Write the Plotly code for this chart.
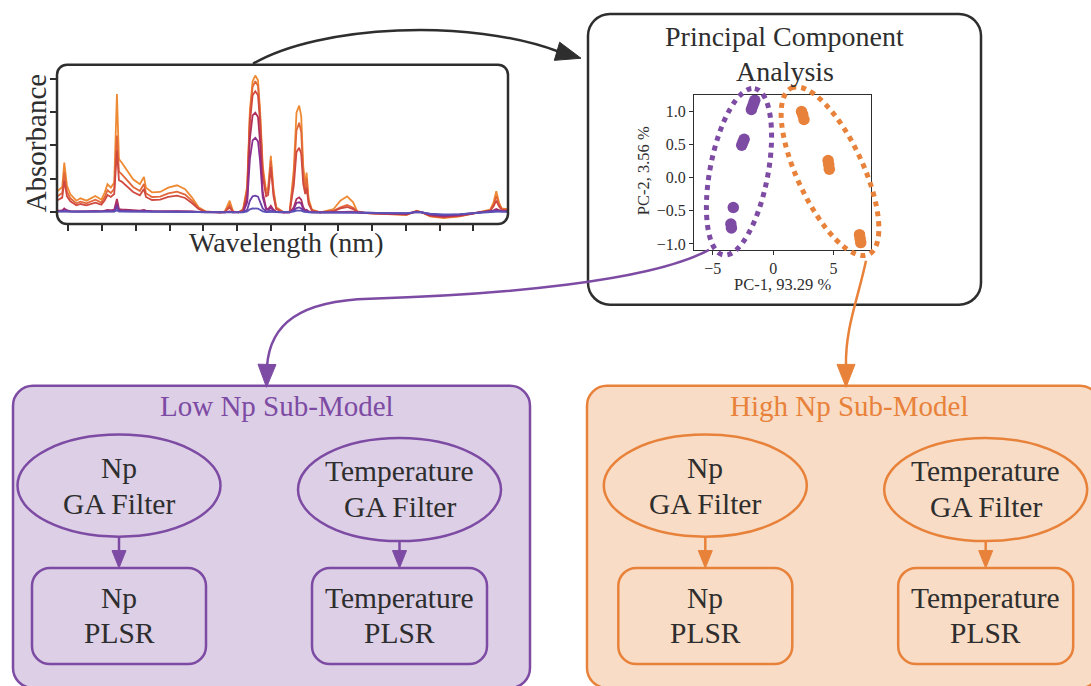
import numpy as np
import plotly.graph_objects as go

W, H = 1091, 686

# ---------------- data ----------------
wavelength_nm = [384, 391, 394, 398, 403, 412, 418, 427, 440, 449,
                 454, 458, 463, 468, 472, 475, 479, 486, 496, 506,
                 512, 515, 524, 536, 548, 561, 573, 583, 593, 603,
                 625, 632, 639, 644, 652, 659, 665, 669, 673, 677,
                 681, 684, 688, 693, 696, 700, 704, 708, 719, 728,
                 734, 738, 742, 745, 748, 751, 753, 756, 761, 773,
                 793, 803, 813, 822, 828, 842, 872, 901, 916, 924,
                 936, 956, 980, 1005, 1025, 1030, 1034, 1038, 1042, 1050]

abs_high1 = [0.64, 0.76, 1.49, 0.79, 0.54, 0.35, 0.42, 0.35, 0.49, 0.38,
             0.60, 0.84, 0.74, 0.89, 3.54, 1.59, 1.49, 1.29, 0.99, 0.84,
             1.06, 0.74, 0.60, 0.61, 0.74, 0.81, 0.69, 0.45, 0.15, 0.03,
             0.00, 0.03, 0.35, 0.03, 0.00, 0.10, 0.79, 3.07, 3.92, 4.09,
             3.95, 3.07, 1.39, 0.64, 0.74, 1.69, 0.69, 0.15, 0.00, 0.03,
             1.29, 2.98, 3.19, 2.88, 1.39, 0.84, 1.19, 0.40, 0.08, 0.00,
             0.10, 0.35, 0.48, 0.30, 0.03, -0.02, -0.06, -0.08, 0.05, 0.00,
             -0.12, -0.17, -0.12, -0.02, 0.08, 0.30, 0.63, 0.30, 0.12, 0.10]
abs_high2 = [0.48, 0.58, 1.20, 0.62, 0.42, 0.27, 0.32, 0.27, 0.38, 0.29,
             0.46, 0.66, 0.58, 0.70, 2.30, 1.22, 1.14, 0.99, 0.76, 0.64,
             0.85, 0.57, 0.46, 0.47, 0.57, 0.62, 0.53, 0.35, 0.12, 0.02,
             0.00, 0.02, 0.22, 0.02, 0.00, 0.08, 0.70, 2.90, 3.75, 3.92,
             3.78, 2.90, 1.25, 0.55, 0.62, 1.55, 0.58, 0.12, 0.00, 0.02,
             1.05, 2.45, 2.68, 2.40, 1.10, 0.66, 1.02, 0.32, 0.06, 0.00,
             0.05, 0.15, 0.22, 0.14, 0.02, -0.02, -0.05, -0.07, 0.04, 0.00,
             -0.11, -0.15, -0.11, -0.02, 0.06, 0.24, 0.49, 0.24, 0.10, 0.08]
abs_high3 = [0.36, 0.44, 0.95, 0.48, 0.33, 0.21, 0.25, 0.21, 0.29, 0.23,
             0.36, 0.52, 0.46, 0.55, 1.85, 0.96, 0.92, 0.80, 0.61, 0.51,
             0.70, 0.46, 0.37, 0.38, 0.46, 0.50, 0.43, 0.28, 0.10, 0.02,
             0.00, 0.02, 0.15, 0.02, 0.00, 0.06, 0.60, 2.70, 3.50, 3.62,
             3.50, 2.70, 1.10, 0.48, 0.52, 1.35, 0.48, 0.10, 0.00, 0.02,
             0.80, 1.80, 1.93, 1.75, 0.85, 0.55, 0.74, 0.25, 0.05, 0.00,
             0.04, 0.12, 0.16, 0.10, 0.02, -0.02, -0.05, -0.06, 0.03, 0.00,
             -0.10, -0.14, -0.10, -0.02, 0.05, 0.18, 0.35, 0.18, 0.08, 0.06]
abs_low1 = [0.05, 0.06, 0.12, 0.06, 0.04, 0.03, 0.03, 0.03, 0.04, 0.03,
            0.05, 0.07, 0.06, 0.08, 0.40, 0.10, 0.09, 0.08, 0.06, 0.05,
            0.07, 0.05, 0.04, 0.04, 0.05, 0.05, 0.04, 0.03, 0.01, 0.00,
            0.00, 0.00, 0.03, 0.00, 0.00, 0.02, 0.40, 2.20, 2.90, 2.98,
            2.85, 2.10, 0.60, 0.12, 0.10, 0.20, 0.08, 0.02, 0.00, 0.00,
            0.15, 0.40, 0.45, 0.38, 0.15, 0.06, 0.08, 0.03, 0.01, 0.00,
            0.01, 0.02, 0.03, 0.02, 0.00, -0.02, -0.04, -0.05, 0.02, 0.00,
            -0.08, -0.12, -0.09, -0.02, 0.03, 0.06, 0.10, 0.06, 0.04, 0.04]
abs_low2 = [0.04, 0.05, 0.08, 0.05, 0.03, 0.02, 0.02, 0.02, 0.03, 0.02,
            0.04, 0.05, 0.04, 0.05, 0.25, 0.07, 0.06, 0.05, 0.04, 0.04,
            0.05, 0.04, 0.03, 0.03, 0.04, 0.04, 0.03, 0.02, 0.01, 0.00,
            0.00, 0.00, 0.02, 0.00, 0.00, 0.01, 0.30, 1.60, 2.15, 2.23,
            2.12, 1.55, 0.45, 0.09, 0.08, 0.14, 0.06, 0.01, 0.00, 0.00,
            0.10, 0.28, 0.30, 0.26, 0.10, 0.04, 0.06, 0.02, 0.00, 0.00,
            0.01, 0.01, 0.02, 0.01, 0.00, -0.02, -0.03, -0.04, 0.02, 0.00,
            -0.06, -0.10, -0.07, -0.01, 0.02, 0.04, 0.07, 0.04, 0.03, 0.03]
abs_low3 = [0.03, 0.03, 0.05, 0.03, 0.02, 0.02, 0.02, 0.02, 0.02, 0.02,
            0.03, 0.03, 0.03, 0.03, 0.15, 0.04, 0.04, 0.03, 0.03, 0.03,
            0.03, 0.03, 0.02, 0.02, 0.03, 0.03, 0.02, 0.02, 0.01, 0.00,
            0.00, 0.00, 0.01, 0.00, 0.00, 0.01, 0.08, 0.35, 0.48, 0.50,
            0.47, 0.34, 0.12, 0.03, 0.03, 0.06, 0.03, 0.01, 0.00, 0.00,
            0.05, 0.13, 0.15, 0.12, 0.05, 0.02, 0.03, 0.01, 0.00, 0.00,
            0.00, 0.01, 0.01, 0.01, 0.00, -0.01, -0.02, -0.03, 0.01, 0.00,
            -0.05, -0.08, -0.06, -0.01, 0.02, 0.03, 0.05, 0.03, 0.02, 0.02]
abs_low4 = [0.02, 0.02, 0.03, 0.02, 0.02, 0.01, 0.01, 0.01, 0.01, 0.01,
            0.01, 0.02, 0.02, 0.02, 0.06, 0.02, 0.02, 0.02, 0.02, 0.02,
            0.02, 0.02, 0.01, 0.01, 0.02, 0.02, 0.01, 0.01, 0.00, 0.00,
            0.00, 0.00, 0.01, 0.00, 0.00, 0.00, 0.03, 0.09, 0.12, 0.12,
            0.11, 0.08, 0.03, 0.01, 0.01, 0.02, 0.01, 0.00, 0.00, 0.00,
            0.02, 0.05, 0.06, 0.05, 0.02, 0.01, 0.01, 0.00, 0.00, 0.00,
            0.00, 0.00, 0.01, 0.00, 0.00, -0.01, -0.02, -0.02, 0.01, 0.00,
            -0.04, -0.06, -0.05, -0.01, 0.01, 0.02, 0.03, 0.02, 0.02, 0.02]

spectra = [abs_high1, abs_high2, abs_high3, abs_low1, abs_low2, abs_low3, abs_low4]
spectra_colors = ["#ee8a34", "#e2683a", "#d04a40", "#b0305c", "#8c2f8e", "#6a3fa6", "#5a52b6"]

wl_ticks = [400, 450, 500, 550, 600, 650, 700, 750, 800, 850, 900, 950, 1000]
abs_ticks = [0, 1, 2, 3, 4]

pc1_low = [-1.80, -1.70, -1.60, -1.52, -2.60, -2.50, -2.40, -3.30, -3.50, -3.45]
pc2_low = [1.03, 1.08, 1.13, 1.17, 0.49, 0.54, 0.58, -0.45, -0.70, -0.76]
pc1_high = [2.35, 2.45, 2.55, 4.55, 4.60, 4.65, 7.15, 7.20, 7.25]
pc2_high = [1.00, 0.95, 0.88, 0.26, 0.20, 0.13, -0.86, -0.92, -0.98]
pca_xticks = [-5, 0, 5]
pca_yticks = [-1.0, -0.5, 0.0, 0.5, 1.0]
pc1_label = "PC-1, 93.29 %"
pc2_label = "PC-2, 3.56 %"

# ---------------- styling ----------------
PURPLE = "#7d4ba3"
ORANGE = "#e8823a"
PURPLE_FILL = "#dccfe6"
ORANGE_FILL = "#f8dcc5"
DARK = "#2e2e2e"
FONT = "Liberation Serif"


def fx(x):
    return x / W


def fy(y):
    return 1 - y / H


def pt(x, y):
    return f"{fx(x):.5f},{fy(y):.5f}"


def rrect_path(x0, y0, x1, y1, r):
    k = 0.5523 * r
    return (f"M{pt(x0 + r, y0)} L{pt(x1 - r, y0)} "
            f"C{pt(x1 - r + k, y0)} {pt(x1, y0 + r - k)} {pt(x1, y0 + r)} "
            f"L{pt(x1, y1 - r)} "
            f"C{pt(x1, y1 - r + k)} {pt(x1 - r + k, y1)} {pt(x1 - r, y1)} "
            f"L{pt(x0 + r, y1)} "
            f"C{pt(x0 + r - k, y1)} {pt(x0, y1 - r + k)} {pt(x0, y1 - r)} "
            f"L{pt(x0, y0 + r)} "
            f"C{pt(x0, y0 + r - k)} {pt(x0 + r - k, y0)} {pt(x0 + r, y0)} Z")


def ellipse_path(cx, cy, a, b, theta_deg):
    t = np.radians(theta_deg)
    u = (np.sin(t), -np.cos(t))
    v = (np.cos(t), np.sin(t))
    k = 0.5523

    def P(p, q):
        return pt(cx + a * p * u[0] + b * q * v[0], cy + a * p * u[1] + b * q * v[1])

    return (f"M{P(1, 0)} C{P(1, k)} {P(k, 1)} {P(0, 1)} "
            f"C{P(-k, 1)} {P(-1, k)} {P(-1, 0)} "
            f"C{P(-1, -k)} {P(-k, -1)} {P(0, -1)} "
            f"C{P(k, -1)} {P(1, -k)} {P(1, 0)} Z")


def head_path(tip, base, hw):
    d = np.array(tip, float) - np.array(base, float)
    d /= np.linalg.norm(d)
    n = np.array([-d[1], d[0]])
    b1 = np.array(base) + n * hw
    b2 = np.array(base) - n * hw
    return f"M{pt(*tip)} L{pt(*b1)} L{pt(*b2)} Z"


shapes = []


def add_path(path, color, width, fill=None, dash=None, layer="above"):
    shp = dict(type="path", path=path, xref="paper", yref="paper", layer=layer,
               line=dict(color=color, width=width))
    if fill:
        shp["fillcolor"] = fill
    if dash:
        shp["line"]["dash"] = dash
    shapes.append(shp)


def add_ellipse(x0, y0, x1, y1, color, width):
    shapes.append(dict(type="circle", xref="paper", yref="paper",
                       x0=fx(x0), x1=fx(x1), y0=fy(y1), y1=fy(y0),
                       line=dict(color=color, width=width), layer="above"))


annotations = []


def add_text(x, y, text, size, color=DARK, angle=0):
    annotations.append(dict(x=fx(x), y=fy(y), xref="paper", yref="paper", text=text,
                            showarrow=False, xanchor="center", yanchor="middle",
                            textangle=angle, font=dict(family=FONT, size=size, color=color)))


# ---------------- figure ----------------
fig = go.Figure()

for vals, col in zip(spectra, spectra_colors):
    fig.add_trace(go.Scatter(x=wavelength_nm, y=vals, mode="lines",
                             line=dict(color=col, width=1.8), xaxis="x", yaxis="y",
                             showlegend=False, hoverinfo="skip"))

fig.add_trace(go.Scatter(x=pc1_low, y=pc2_low, mode="markers", xaxis="x2", yaxis="y2",
                         marker=dict(color=PURPLE, size=11.5), showlegend=False))
fig.add_trace(go.Scatter(x=pc1_high, y=pc2_high, mode="markers", xaxis="x2", yaxis="y2",
                         marker=dict(color=ORANGE, size=11.5), showlegend=False))

# spectrum panel
add_path(rrect_path(57, 65, 508, 225, 10), DARK, 2.5)
add_text(36, 144, "Absorbance", 29, angle=-90)
add_text(286, 244, "Wavelength (nm)", 28)

# PCA panel
add_path(rrect_path(588, 14, 981, 306, 22), DARK, 2.5)
add_text(784, 37, "Principal Component", 28)
add_text(785, 72, "Analysis", 28)
add_text(782, 286, pc1_label, 16.5)
add_text(643, 172, pc2_label, 16.5, angle=-90)
add_path(ellipse_path(739, 172.5, 85, 29, 10.7), PURPLE, 5, dash="dot")
add_path(ellipse_path(830, 172, 92, 33, -24.8), ORANGE, 5, dash="dot")

# black arrow spectrum -> PCA
add_path(f"M{pt(253, 64)} C{pt(320, 25)} {pt(470, 18)} {pt(559, 52)}", DARK, 2.5)
add_path(head_path((581, 58.5), (557, 51.5), 9.5), DARK, 1, fill=DARK)

# purple arrow PCA -> low model
add_path(f"M{pt(709, 251)} C{pt(650, 283)} {pt(500, 296)} {pt(370, 300)} "
         f"C{pt(300, 302)} {pt(270, 325)} {pt(267, 368)}", PURPLE, 2.5)
add_path(head_path((266.5, 389), (267, 366), 9), PURPLE, 1, fill=PURPLE)

# orange arrow PCA -> high model
add_path(f"M{pt(866, 262)} C{pt(858, 300)} {pt(845, 330)} {pt(846, 368)}", ORANGE, 2.5)
add_path(head_path((846, 389), (846, 366), 9), ORANGE, 1, fill=ORANGE)

# sub-model boxes
models = [
    dict(x0=13, x1=530, col=PURPLE, fill=PURPLE_FILL, title="Low Np Sub-Model",
         tx=277, e1=119, e2=399.5),
    dict(x0=587, x1=1100, col=ORANGE, fill=ORANGE_FILL, title="High Np Sub-Model",
         tx=849, e1=705.3, e2=985.7),
]
for m in models:
    add_path(rrect_path(m["x0"], 387.5, m["x1"], 691, 20), m["col"], 2.5, fill=m["fill"], layer="below")
    add_text(m["tx"], 407.5, m["title"], 29, color=m["col"])
    # ellipses
    add_ellipse(m["e1"] - 101.5, 436.5, m["e1"] + 101.5, 539, m["col"], 2.5)
    add_ellipse(m["e2"] - 101.5, 440, m["e2"] + 101.5, 543.5, m["col"], 2.5)
    add_text(m["e1"], 470, "Np", 29.5)
    add_text(m["e1"], 506, "GA Filter", 29.5)
    add_text(m["e2"], 473, "Temperature", 29.5)
    add_text(m["e2"], 509.5, "GA Filter", 29.5)
    # small arrows
    for cx, ytop in ((m["e1"], 539), (m["e2"], 543.5)):
        add_path(f"M{pt(cx, ytop)} L{pt(cx, 555)}", m["col"], 2.5)
        add_path(head_path((cx, 570.5), (cx, 553), 7), m["col"], 1, fill=m["col"])
    # rects
    add_path(rrect_path(m["e1"] - 87, 570.5, m["e1"] + 87, 667, 18), m["col"], 2.5)
    add_path(rrect_path(m["e2"] - 87.5, 570.5, m["e2"] + 87.5, 667, 18), m["col"], 2.5)
    add_text(m["e1"], 600.5, "Np", 29.5)
    add_text(m["e1"], 636, "PLSR", 29.5)
    add_text(m["e2"], 600.5, "Temperature", 29.5)
    add_text(m["e2"], 636, "PLSR", 29.5)

x_lo = 400 + (57 - 68.33) * 50 / 33.75
x_hi = 400 + (508 - 68.33) * 50 / 33.75
y_lo = (213.3 - 225) / 33.6
y_hi = (213.3 - 65) / 33.6

fig.update_layout(
    width=W, height=H, margin=dict(l=0, r=0, t=0, b=0),
    paper_bgcolor="white", plot_bgcolor="rgba(0,0,0,0)",
    showlegend=False, shapes=shapes, annotations=annotations,
    font=dict(family=FONT, color=DARK),
    xaxis=dict(domain=[fx(57), fx(508)], range=[x_lo, x_hi], anchor="y",
               tickvals=wl_ticks, ticks="outside", ticklen=6, tickwidth=1.5, tickcolor=DARK,
               showticklabels=False, showgrid=False, zeroline=False, showline=False),
    yaxis=dict(domain=[fy(225), fy(65)], range=[y_lo, y_hi], anchor="x",
               tickvals=abs_ticks, ticks="outside", ticklen=6, tickwidth=1.5, tickcolor=DARK,
               showticklabels=False, showgrid=False, zeroline=False, showline=False),
    xaxis2=dict(domain=[fx(694), fx(871)], range=[-6.55, 8.1], anchor="y2",
                tickvals=pca_xticks, ticks="outside", ticklen=4, tickwidth=1, tickcolor=DARK,
                showline=True, mirror=True, linecolor=DARK, linewidth=1,
                showgrid=False, zeroline=False,
                tickfont=dict(family=FONT, size=16, color=DARK)),
    yaxis2=dict(domain=[fy(251), fy(95)], range=[-1.09, 1.256], anchor="x2",
                tickvals=pca_yticks, tickformat=".1f", ticks="outside", ticklen=4, tickwidth=1,
                tickcolor=DARK, showline=True, mirror=True, linecolor=DARK, linewidth=1,
                showgrid=False, zeroline=False,
                tickfont=dict(family=FONT, size=16, color=DARK)),
)

fig.write_html("out.html", config={"displayModeBar": False},
               post_script="document.body.style.margin='0';")
